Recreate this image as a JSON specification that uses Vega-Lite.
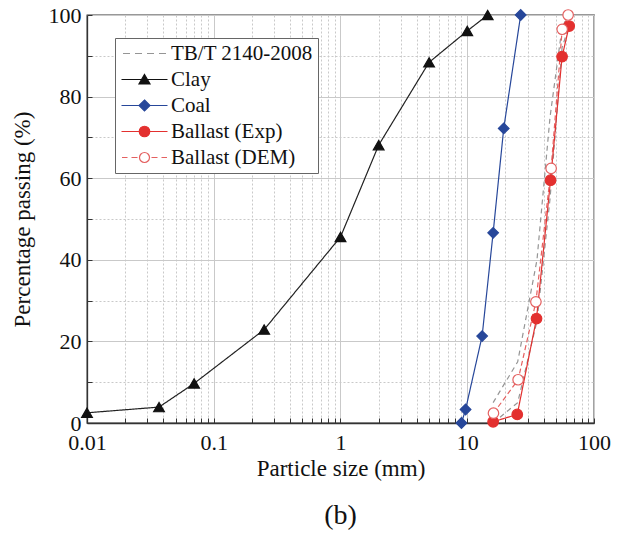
{
  "$schema": "https://vega.github.io/schema/vega-lite/v6.json",
  "width": 507,
  "height": 408,
  "autosize": "none",
  "padding": {"left": 87, "top": 15, "right": 34, "bottom": 116},
  "background": "white",
  "title": {"text": "(b)", "orient": "bottom", "font": "Liberation Serif", "fontSize": 28, "fontWeight": "normal", "color": "#111", "offset": 22},
  "config": {
    "view": {"stroke": "#333", "strokeWidth": 1.3},
    "axis": {
      "labelFont": "Liberation Serif", "labelFontSize": 22, "labelColor": "#111",
      "titleFont": "Liberation Serif", "titleFontSize": 23, "titleFontWeight": "normal", "titleColor": "#111",
      "domainColor": "#333", "domainWidth": 1.3, "tickColor": "#333", "tickWidth": 1, "tickSize": -5,
      "gridColor": "#c9c9c9", "gridWidth": 1, "labelOverlap": false, "labelFlush": false, "labelBound": false
    }
  },
  "data": {"values": [
    {"series": "TB/T 2140-2008", "line": "lower", "size": 16, "pass": 0},
    {"series": "TB/T 2140-2008", "line": "lower", "size": 25, "pass": 5},
    {"series": "TB/T 2140-2008", "line": "lower", "size": 35.5, "pass": 25},
    {"series": "TB/T 2140-2008", "line": "lower", "size": 45, "pass": 55},
    {"series": "TB/T 2140-2008", "line": "lower", "size": 56, "pass": 92},
    {"series": "TB/T 2140-2008", "line": "lower", "size": 63, "pass": 97},
    {"series": "TB/T 2140-2008", "line": "upper", "size": 16, "pass": 5},
    {"series": "TB/T 2140-2008", "line": "upper", "size": 25, "pass": 15},
    {"series": "TB/T 2140-2008", "line": "upper", "size": 35.5, "pass": 40},
    {"series": "TB/T 2140-2008", "line": "upper", "size": 45, "pass": 75},
    {"series": "TB/T 2140-2008", "line": "upper", "size": 56, "pass": 97},
    {"series": "TB/T 2140-2008", "line": "upper", "size": 63, "pass": 100},
    {"series": "Clay", "line": "clay", "size": 0.01, "pass": 2.5},
    {"series": "Clay", "line": "clay", "size": 0.037, "pass": 3.9},
    {"series": "Clay", "line": "clay", "size": 0.07, "pass": 9.7},
    {"series": "Clay", "line": "clay", "size": 0.25, "pass": 22.9},
    {"series": "Clay", "line": "clay", "size": 1, "pass": 45.6},
    {"series": "Clay", "line": "clay", "size": 2, "pass": 68.1},
    {"series": "Clay", "line": "clay", "size": 5, "pass": 88.4},
    {"series": "Clay", "line": "clay", "size": 10, "pass": 96.1},
    {"series": "Clay", "line": "clay", "size": 14.5, "pass": 100},
    {"series": "Coal", "line": "coal", "size": 9, "pass": 0},
    {"series": "Coal", "line": "coal", "size": 9.7, "pass": 3.3},
    {"series": "Coal", "line": "coal", "size": 13.1, "pass": 21.3},
    {"series": "Coal", "line": "coal", "size": 16, "pass": 46.6},
    {"series": "Coal", "line": "coal", "size": 19.4, "pass": 72.2},
    {"series": "Coal", "line": "coal", "size": 26.4, "pass": 100},
    {"series": "Ballast (Exp)", "line": "exp", "size": 16, "pass": 0.3},
    {"series": "Ballast (Exp)", "line": "exp", "size": 24.8, "pass": 2.1},
    {"series": "Ballast (Exp)", "line": "exp", "size": 35.2, "pass": 25.6},
    {"series": "Ballast (Exp)", "line": "exp", "size": 45.4, "pass": 59.5},
    {"series": "Ballast (Exp)", "line": "exp", "size": 56, "pass": 89.8},
    {"series": "Ballast (Exp)", "line": "exp", "size": 63.7, "pass": 97.3},
    {"series": "Ballast (DEM)", "line": "dem", "size": 16.1, "pass": 2.4},
    {"series": "Ballast (DEM)", "line": "dem", "size": 25.2, "pass": 10.6},
    {"series": "Ballast (DEM)", "line": "dem", "size": 34.8, "pass": 29.7},
    {"series": "Ballast (DEM)", "line": "dem", "size": 45.9, "pass": 62.4},
    {"series": "Ballast (DEM)", "line": "dem", "size": 56.1, "pass": 96.5},
    {"series": "Ballast (DEM)", "line": "dem", "size": 62.5, "pass": 100}
  ]},
  "encoding": {
    "x": {
      "field": "size", "type": "quantitative",
      "scale": {"type": "log", "domain": [0.01, 100], "nice": false},
      "axis": {
        "title": "Particle size (mm)",
        "values": [0.01, 0.02, 0.03, 0.04, 0.05, 0.06, 0.07, 0.08, 0.09, 0.1, 0.2, 0.3, 0.4, 0.5, 0.6, 0.7, 0.8, 0.9, 1, 2, 3, 4, 5, 6, 7, 8, 9, 10, 20, 30, 40, 50, 60, 70, 80, 90, 100],
        "labelExpr": "abs(log(datum.value)/LN10 - round(log(datum.value)/LN10)) < 0.001 ? format(datum.value, '~g') : ''",
        "gridDash": {"condition": {"test": "abs(log(datum.value)/LN10 - round(log(datum.value)/LN10)) < 0.001", "value": []}, "value": [2, 2]},
        "labelPadding": 14,
        "titlePadding": 4
      }
    },
    "y": {
      "field": "pass", "type": "quantitative",
      "scale": {"domain": [0, 100], "nice": false, "zero": false},
      "axis": {
        "title": "Percentage passing (%)",
        "values": [0, 10, 20, 30, 40, 50, 60, 70, 80, 90, 100],
        "labelExpr": "datum.value % 20 === 0 ? datum.label : ''",
        "gridDash": {"condition": {"test": "datum.value % 20 === 0", "value": []}, "value": [2, 2]},
        "labelPadding": 11,
        "titlePadding": 14
      }
    }
  },
  "resolve": {
    "scale": {"shape": "independent", "fill": "independent", "stroke": "independent", "size": "independent"},
    "legend": {"shape": "independent", "fill": "independent", "stroke": "independent", "size": "independent"}
  },
  "layer": [
    {
      "mark": {"type": "line", "strokeWidth": 1.2},
      "encoding": {
        "color": {"field": "series", "type": "nominal", "legend": null,
          "scale": {"domain": ["TB/T 2140-2008", "Clay", "Coal", "Ballast (Exp)", "Ballast (DEM)"], "range": ["#959595", "#222222", "#27479a", "#e3302f", "#e46060"]}},
        "strokeDash": {"field": "series", "type": "nominal", "legend": null,
          "scale": {"domain": ["TB/T 2140-2008", "Clay", "Coal", "Ballast (Exp)", "Ballast (DEM)"], "range": [[5, 4], [1, 0], [1, 0], [1, 0], [5, 3]]}},
        "detail": {"field": "line"}
      }
    },
    {
      "transform": [{"filter": "datum.series !== 'TB/T 2140-2008'"}],
      "mark": {"type": "point", "strokeWidth": 1.2, "opacity": 1},
      "encoding": {
        "shape": {"field": "series", "type": "nominal", "legend": null,
          "scale": {"domain": ["Clay", "Coal", "Ballast (Exp)", "Ballast (DEM)"], "range": ["triangle-up", "diamond", "circle", "circle"]}},
        "fill": {"field": "series", "type": "nominal", "legend": null,
          "scale": {"domain": ["Clay", "Coal", "Ballast (Exp)", "Ballast (DEM)"], "range": ["#111111", "#27479a", "#e3302f", "#ffffff"]}},
        "stroke": {"field": "series", "type": "nominal", "legend": null,
          "scale": {"domain": ["Clay", "Coal", "Ballast (Exp)", "Ballast (DEM)"], "range": ["#111111", "#27479a", "#e3302f", "#e46060"]}},
        "size": {"field": "series", "type": "nominal", "legend": null,
          "scale": {"domain": ["Clay", "Coal", "Ballast (Exp)", "Ballast (DEM)"], "range": [115, 110, 110, 100]}}
      }
    },
    {
      "mark": {"type": "point", "opacity": 0, "size": 100, "strokeWidth": 1.2},
      "encoding": {
        "shape": {"field": "series", "type": "nominal",
          "scale": {"domain": ["TB/T 2140-2008", "Clay", "Coal", "Ballast (Exp)", "Ballast (DEM)"],
            "range": [
              "M-4.3,0H-2.9M-1.9,0H-0.5M0.5,0H1.9M2.9,0H4.3",
              "M-4.6,0H4.6M0,-1L1.1,0.9L-1.1,0.9Z",
              "M-4.6,0H4.6M0,-1.1L1.1,0L0,1.1L-1.1,0Z",
              "M-4.6,0H4.6M1.05,0A1.05,1.05,0,1,1,-1.05,0A1.05,1.05,0,1,1,1.05,0Z",
              "M-4.5,0H-3.4M-2.6,0H-1.4M1.4,0H2.6M3.4,0H4.5M1,0A1,1,0,1,1,-1,0A1,1,0,1,1,1,0Z"
            ]},
          "legend": {
            "title": null, "orient": "none", "legendX": 28, "legendY": 23,
            "padding": 5, "strokeColor": "#666", "fillColor": "white",
            "labelFont": "Liberation Serif", "labelFontSize": 21, "labelColor": "#111",
            "symbolSize": 100, "symbolOffset": 14, "labelOffset": 16, "rowPadding": 4,
            "symbolStrokeWidth": 1.2, "symbolOpacity": 1
          }
        },
        "fill": {"field": "series", "type": "nominal",
          "scale": {"domain": ["TB/T 2140-2008", "Clay", "Coal", "Ballast (Exp)", "Ballast (DEM)"], "range": ["transparent", "#111111", "#27479a", "#e3302f", "#ffffff"]},
          "legend": {
            "title": null, "orient": "none", "legendX": 28, "legendY": 23,
            "padding": 5, "strokeColor": "#666", "fillColor": "white",
            "labelFont": "Liberation Serif", "labelFontSize": 21, "labelColor": "#111",
            "symbolSize": 100, "symbolOffset": 14, "labelOffset": 16, "rowPadding": 4,
            "symbolStrokeWidth": 1.2, "symbolOpacity": 1
          }
        },
        "stroke": {"field": "series", "type": "nominal",
          "scale": {"domain": ["TB/T 2140-2008", "Clay", "Coal", "Ballast (Exp)", "Ballast (DEM)"], "range": ["#959595", "#111111", "#27479a", "#e3302f", "#e46060"]},
          "legend": {
            "title": null, "orient": "none", "legendX": 28, "legendY": 23,
            "padding": 5, "strokeColor": "#666", "fillColor": "white",
            "labelFont": "Liberation Serif", "labelFontSize": 21, "labelColor": "#111",
            "symbolSize": 100, "symbolOffset": 14, "labelOffset": 16, "rowPadding": 4,
            "symbolStrokeWidth": 1.2, "symbolOpacity": 1
          }
        }
      }
    }
  ]
}
